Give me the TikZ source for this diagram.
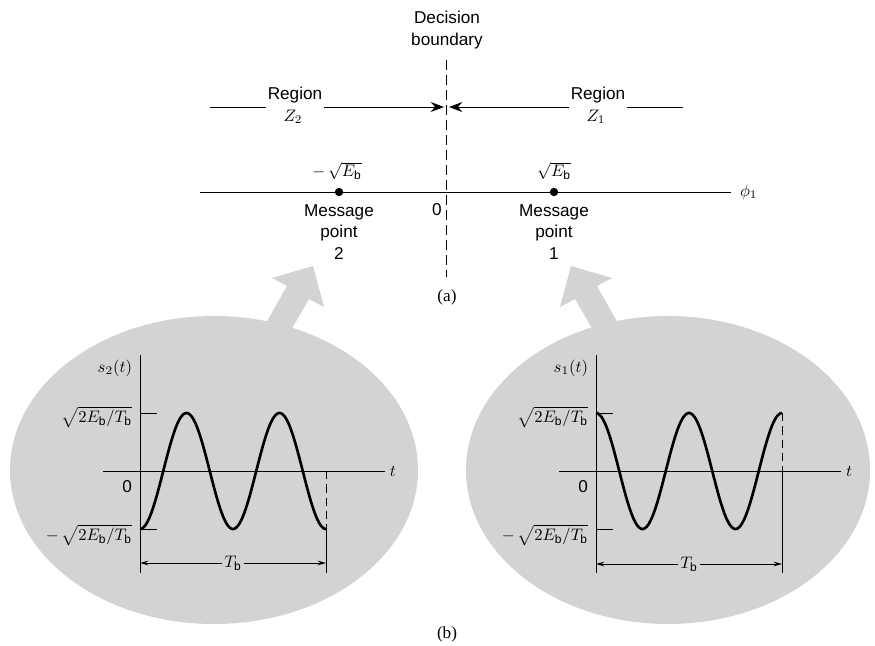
\documentclass[tikz,border=0pt]{standalone}
\usepackage{amsmath}
\usepackage{fontspec}
\setmainfont{Liberation Sans}
\newfontfamily\capfont{Liberation Serif}
\usepackage{tikz}
\usetikzlibrary{arrows.meta,calc}
\definecolor{blobgray}{RGB}{209,211,212}
\newcommand{\bsub}{\text{b}}

\begin{document}
\begin{tikzpicture}[x=0.6pt,y=-0.6pt,font=\fontsize{10.3}{13}\selectfont,
  txt/.style={inner sep=1pt,align=center},
  thinline/.style={line width=0.6pt},
  wave/.style={line width=1.6pt},
  dimarrow/.style={line width=0.6pt,-{Stealth[length=5pt,width=2.8pt]}},
  zonearrow/.style={line width=0.6pt,-{Stealth[length=8pt,width=6pt]}},
  msgdot/.style={circle,fill,inner sep=0pt,minimum size=5pt}]
  \useasboundingbox (0,0) rectangle (875,645);

  % (a) signal space
  \node[txt] (db) at (447,30) {Decision\\boundary};
  \coordinate (dbtop) at (446,60);
  \coordinate (dbend) at (446,277);
  \draw[thinline,dash pattern=on 6pt off 3pt] (dbtop) -- (dbend);

  \node[txt] (reg2) at (295,95) {Region};
  \node[txt] (z2) at (293,117) {$Z_2$};
  \node[txt] (reg1) at (598,95) {Region};
  \node[txt] (z1) at (596,117) {$Z_1$};
  \coordinate (lz2) at (210,107);
  \coordinate (rz1) at (683,107);
  \coordinate (tip2) at (444,107);
  \coordinate (tip1) at (449,107);
  \draw[thinline] (lz2) -- (lz2 -| reg2.west);
  \draw[zonearrow] (lz2 -| reg2.east) -- (tip2);
  \draw[thinline] (rz1) -- (rz1 -| reg1.east);
  \draw[zonearrow] (rz1 -| reg1.west) -- (tip1);

  \coordinate (ax0) at (200,192);
  \coordinate (ax1) at (731,192);
  \draw[thinline] (ax0) -- (ax1);
  \node[txt,anchor=west] (phi) at (738,192) {$\phi_1$};
  \node[msgdot] (m2) at (339,192) {};
  \node[msgdot] (m1) at (554,192) {};
  \node[txt] (e2) at (337,171) {$-\,\sqrt{E_{\bsub}}$};
  \node[txt] (e1) at (554,171) {$\sqrt{E_{\bsub}}$};
  \node[txt] (p2) at (339,232) {Message\\point\\2};
  \node[txt] (p1) at (554,232) {Message\\point\\1};
  \node[txt] (zero) at (437,210) {0};
  \node[txt] (capa) at (447,297) {\capfont (a)};

  % (b) waveforms
  \fill[blobgray] (214,470) ellipse [x radius=204, y radius=154];
  \fill[blobgray] (668,470) ellipse [x radius=202, y radius=154];
  \fill[blobgray] (313,266) -- (272,278) -- (287,286) -- (257,339)
    -- (279,351) -- (309,299) -- (324,307) -- cycle;
  \fill[blobgray] (571,266) -- (612,278) -- (597,286) -- (627,339)
    -- (605,351) -- (575,299) -- (560,307) -- cycle;

  % s2(t)
  \draw[thinline] (103,471) -- (385,471);
  \node[txt] (t2) at (393,471) {$t$};
  \draw[thinline] (140,355) -- (140,573);
  \draw[thinline] (140,413) -- (157,413);
  \draw[thinline] (140,529) -- (157,529);
  \node[txt,anchor=east] (s2) at (134,368) {$s_2(t)$};
  \node[txt,anchor=east] (hi2) at (134,417) {$\sqrt{2E_{\bsub}/T_{\bsub}}$};
  \node[txt,anchor=east] (o2) at (134,487) {0};
  \node[txt,anchor=east] (lo2) at (134,535) {$-\,\sqrt{2E_{\bsub}/T_{\bsub}}$};
  \draw[wave] plot[domain=0:186,samples=140] ({140+\x},{471+58*cos(3.871*\x)});
  \draw[thinline,dash pattern=on 5pt off 3pt] (326,471) -- (326,529);
  \draw[thinline] (326,529) -- (326,573);
  \node[txt] (tb2) at (233,563) {$T_{\bsub}$};
  \coordinate (tb2l) at (140,563);
  \coordinate (tb2r) at (326,563);
  \draw[dimarrow] (tb2.west) -- (tb2l);
  \draw[dimarrow] (tb2.east) -- (tb2r);

  % s1(t)
  \draw[thinline] (559,471) -- (841,471);
  \node[txt] (t1) at (849,471) {$t$};
  \draw[thinline] (596,355) -- (596,573);
  \draw[thinline] (596,413) -- (613,413);
  \draw[thinline] (596,529) -- (613,529);
  \node[txt,anchor=east] (s1) at (590,368) {$s_1(t)$};
  \node[txt,anchor=east] (hi1) at (590,417) {$\sqrt{2E_{\bsub}/T_{\bsub}}$};
  \node[txt,anchor=east] (o1) at (590,487) {0};
  \node[txt,anchor=east] (lo1) at (590,535) {$-\,\sqrt{2E_{\bsub}/T_{\bsub}}$};
  \draw[wave] plot[domain=0:186,samples=140] ({596+\x},{471-58*cos(3.871*\x)});
  \draw[thinline,dash pattern=on 5pt off 3pt] (782,413) -- (782,471);
  \draw[thinline] (782,471) -- (782,573);
  \node[txt] (tb1) at (689,564) {$T_{\bsub}$};
  \coordinate (tb1l) at (596,564);
  \coordinate (tb1r) at (782,564);
  \draw[dimarrow] (tb1.west) -- (tb1l);
  \draw[dimarrow] (tb1.east) -- (tb1r);

  \node[txt] (capb) at (447,634) {\capfont (b)};
\end{tikzpicture}
\end{document}
